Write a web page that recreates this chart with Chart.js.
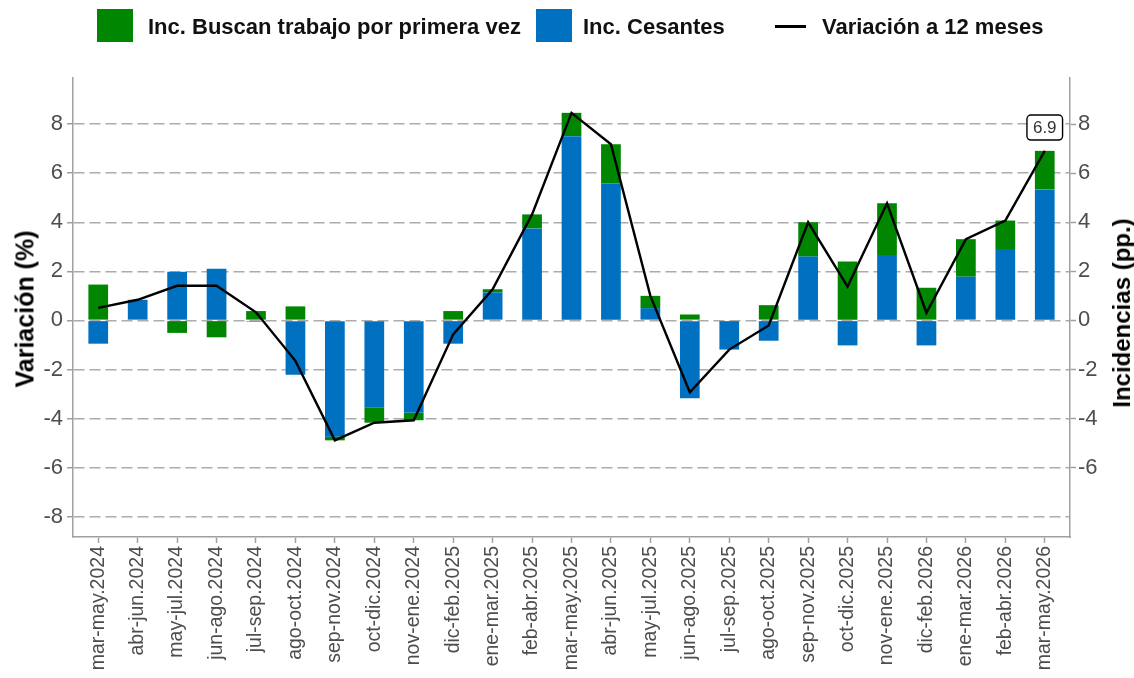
<!DOCTYPE html>
<html lang="es">
<head>
<meta charset="utf-8">
<title>Incidencias y variación a 12 meses</title>
<script src="https://cdn.jsdelivr.net/npm/chart.js@4.4.1/dist/chart.umd.min.js"></script>
<style>
  html, body { margin: 0; padding: 0; background: #fff; }
  #wrap { position: relative; width: 1134px; height: 678px; font-family: "Liberation Sans", Arial, sans-serif; }
  #chart { position: absolute; left: 0; top: 0; }
  .swatch { position: absolute; top: 9px; width: 36px; height: 33px; }
  .leg { position: absolute; top: 16px; font-size: 22px; line-height: 22px; font-weight: bold; color: #111; white-space: nowrap; }
  .legline { position: absolute; left: 775px; top: 25px; width: 31px; height: 2.5px; background: #000; }
  .axtitle { position: absolute; font-weight: bold; color: #000; white-space: nowrap; transform: translate(-50%, -50%) rotate(-90deg); }
</style>
</head>
<body>
<div id="wrap">
  <canvas id="chart" width="1134" height="678"></canvas>

  <div class="swatch" style="left:97px;background:#008600"></div>
  <div class="leg" style="left:148px">Inc. Buscan trabajo por primera vez</div>
  <div class="swatch" style="left:536px;background:#0070c0"></div>
  <div class="leg" style="left:583px">Inc. Cesantes</div>
  <div class="legline"></div>
  <div class="leg" style="left:822px">Variación a 12 meses</div>

  <div class="axtitle" style="left:25px;top:309px;font-size:25px">Variación (%)</div>
  <div class="axtitle" style="left:1122px;top:313px;font-size:24px">Incidencias (pp.)</div>
</div>

<script>
// trimestres móviles
const categories = [
  'mar-may.2024', 'abr-jun.2024', 'may-jul.2024', 'jun-ago.2024', 'jul-sep.2024',
  'ago-oct.2024', 'sep-nov.2024', 'oct-dic.2024', 'nov-ene.2024', 'dic-feb.2025',
  'ene-mar.2025', 'feb-abr.2025', 'mar-may.2025', 'abr-jun.2025', 'may-jul.2025',
  'jun-ago.2025', 'jul-sep.2025', 'ago-oct.2025', 'sep-nov.2025', 'oct-dic.2025',
  'nov-ene.2025', 'dic-feb.2026', 'ene-mar.2026', 'feb-abr.2026', 'mar-may.2026'
];

// incidencias (pp.)
const incCesantes = [-0.95, 0.84, 1.98, 2.10, -0.05, -2.22, -4.74, -3.56, -3.77, -0.95,
  1.14, 3.75, 7.51, 5.58, 0.50, -3.17, -1.19, -0.83, 2.60, -1.02,
  2.67, -1.02, 1.78, 2.91, 5.34];
const incPrimeraVez = [1.46, 0.00, -0.51, -0.69, 0.38, 0.57, -0.15, -0.61, -0.30, 0.38,
  0.13, 0.57, 0.95, 1.60, 0.50, 0.24, 0.00, 0.62, 1.40, 2.40,
  2.10, 1.33, 1.53, 1.16, 1.57];

// variación a 12 meses (%)
const variacion12m = [0.51, 0.84, 1.41, 1.41, 0.33, -1.65, -4.89, -4.17, -4.07, -0.57,
  1.27, 4.32, 8.46, 7.18, 1.00, -2.93, -1.19, -0.21, 4.00, 1.38,
  4.77, 0.31, 3.31, 4.07, 6.91];

const yTicksLeft = [-8, -6, -4, -2, 0, 2, 4, 6, 8];
const yTicksRight = [-6, -4, -2, 0, 2, 4, 6, 8];

const Y_MIN = -8.83, Y_MAX = 9.88;
const GREY_TEXT = '#4d4d4d';
const AXIS_GREY = '#a0a0a0';

Chart.defaults.font.family = '"Liberation Sans", Arial, sans-serif';

const toPoints = arr => arr.map((v, i) => ({ x: i, y: v }));

// etiqueta con el último valor
const lastLabel = {
  id: 'lastLabel',
  afterDatasetsDraw(chart) {
    const { ctx, scales: { x, y } } = chart;
    const i = variacion12m.length - 1;
    const txt = variacion12m[i].toFixed(1);
    const px = x.getPixelForValue(i);
    const py = y.getPixelForValue(variacion12m[i] + 0.95);
    ctx.save();
    ctx.font = '17px "Liberation Sans", Arial, sans-serif';
    const w = ctx.measureText(txt).width + 12;
    const h = 25;
    ctx.beginPath();
    ctx.roundRect(px - w / 2, py - h / 2, w, h, 4);
    ctx.fillStyle = '#fff';
    ctx.fill();
    ctx.lineWidth = 1.4;
    ctx.strokeStyle = '#000';
    ctx.stroke();
    ctx.fillStyle = '#333';
    ctx.textAlign = 'center';
    ctx.textBaseline = 'middle';
    ctx.fillText(txt, px, py + 1);
    ctx.restore();
  }
};

const ctx = document.getElementById('chart').getContext('2d');

new Chart(ctx, {
  data: {
    datasets: [
      {
        type: 'line',
        label: 'Variación a 12 meses',
        data: toPoints(variacion12m),
        borderColor: '#000',
        borderWidth: 2.4,
        pointRadius: 0,
        tension: 0,
        order: 0
      },
      {
        type: 'bar',
        label: 'Inc. Cesantes',
        data: toPoints(incCesantes),
        backgroundColor: '#0070c0',
        borderWidth: 0,
        categoryPercentage: 1,
        barPercentage: 0.5,
        order: 1
      },
      {
        type: 'bar',
        label: 'Inc. Buscan trabajo por primera vez',
        data: toPoints(incPrimeraVez),
        backgroundColor: '#008600',
        borderWidth: 0,
        categoryPercentage: 1,
        barPercentage: 0.5,
        order: 1
      }
    ]
  },
  options: {
    responsive: false,
    animation: false,
    layout: { padding: { top: 78, left: 0, right: 0, bottom: 0 } },
    plugins: {
      legend: { display: false },
      tooltip: { enabled: false }
    },
    scales: {
      x: {
        type: 'linear',
        position: 'bottom',
        min: -0.64,
        max: 24.64,
        offset: false,
        stacked: true,
        afterBuildTicks: scale => { scale.ticks = categories.map((c, i) => ({ value: i })); },
        afterFit: scale => { scale.height = 141; },
        grid: { offset: false, drawOnChartArea: false, drawTicks: true, tickLength: 6, tickColor: AXIS_GREY, tickWidth: 1.5 },
        border: { display: true, color: AXIS_GREY, width: 1.5 },
        ticks: {
          autoSkip: false,
          minRotation: 90,
          maxRotation: 90,
          padding: 3,
          color: GREY_TEXT,
          font: { size: 19.5 },
          callback: (v, i) => categories[i]
        }
      },
      y: {
        type: 'linear',
        position: 'left',
        min: Y_MIN,
        max: Y_MAX,
        stacked: true,
        afterBuildTicks: scale => { scale.ticks = yTicksLeft.map(v => ({ value: v })); },
        afterFit: scale => { scale.width = 73; },
        grid: { color: '#ababab', lineWidth: 1.5, drawTicks: true, tickLength: 6, tickColor: AXIS_GREY, tickWidth: 1.5 },
        border: { display: true, color: AXIS_GREY, width: 1.5, dash: [11, 5] },
        ticks: { color: GREY_TEXT, font: { size: 22 }, padding: 4 }
      },
      y2: {
        type: 'linear',
        position: 'right',
        min: Y_MIN,
        max: Y_MAX,
        afterBuildTicks: scale => { scale.ticks = yTicksRight.map(v => ({ value: v })); },
        afterFit: scale => { scale.width = 64; },
        grid: { drawOnChartArea: false, drawTicks: true, tickLength: 6, tickColor: AXIS_GREY, tickWidth: 1.5 },
        border: { display: true, color: AXIS_GREY, width: 1.5 },
        ticks: { color: GREY_TEXT, font: { size: 22 }, padding: 2 }
      }
    }
  },
  plugins: [lastLabel]
});
</script>
</body>
</html>
